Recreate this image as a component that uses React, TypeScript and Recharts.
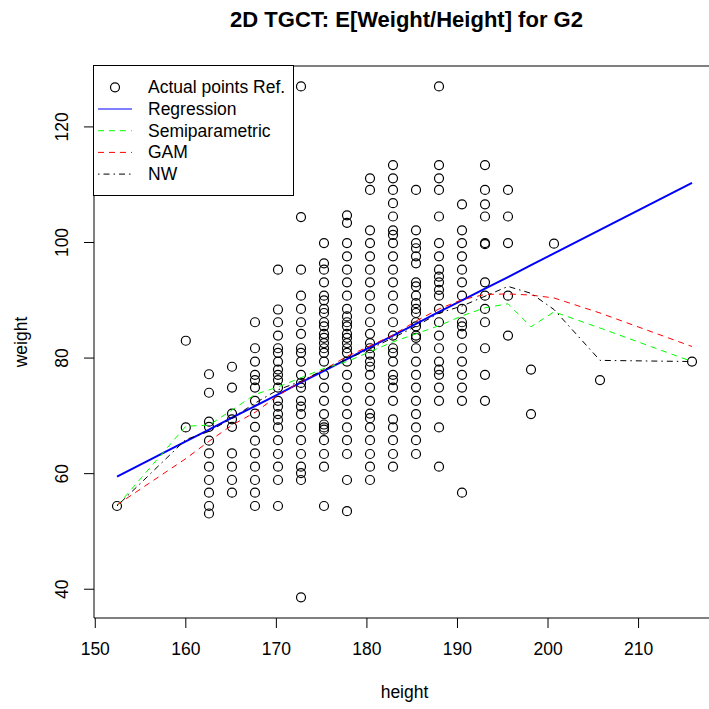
import { ScatterChart, Scatter, XAxis, YAxis, ReferenceArea, Legend } from 'recharts';

// Distinct heights (cm) present in the sample
const heights = [
  152.4, 160.0, 162.56, 165.1, 167.64, 170.18, 172.72, 175.26, 177.8, 180.34,
  182.88, 185.42, 187.96, 190.5, 193.04, 195.58, 198.12, 200.66, 205.74, 215.9,
];

// Observed weights (kg) for each height above, same order
const weightColumns = [
  [54.4],
  [83.0, 68.0],
  [77.2, 74.0, 69.0, 68.1, 65.7, 63.5, 61.2, 58.9, 56.7, 54.4, 53.1],
  [78.5, 74.9, 70.4, 69.4, 68.1, 63.5, 61.2, 58.9, 56.7],
  [86.2, 81.7, 79.4, 77.1, 76.2, 74.9, 72.6, 70.4, 68.1, 65.7, 63.5, 61.2, 58.9, 56.7, 54.4],
  [95.3, 88.4, 86.2, 83.9, 81.7, 80.9, 79.4, 78.0, 77.1, 76.2, 74.9, 72.6, 71.6, 70.3, 69.3, 68.0, 65.8, 63.4, 61.2, 58.9, 54.4],
  [127.0, 104.4, 95.3, 90.8, 88.5, 86.2, 84.2, 81.7, 80.9, 79.4, 77.1, 75.7, 74.9, 72.6, 71.6, 70.3, 68.0, 65.8, 63.4, 61.2, 60.1, 58.9, 38.6],
  [99.9, 96.4, 95.3, 93.1, 90.8, 90.0, 88.5, 87.8, 86.2, 85.5, 84.2, 83.5, 82.6, 81.7, 80.9, 79.4, 77.1, 74.9, 72.6, 70.3, 68.5, 68.0, 67.6, 65.8, 63.4, 61.2, 54.4],
  [104.7, 103.4, 99.9, 97.6, 95.3, 93.1, 90.8, 88.5, 87.2, 86.2, 85.5, 84.2, 83.5, 82.6, 81.7, 80.9, 79.4, 77.1, 74.9, 72.6, 70.3, 68.0, 65.8, 63.4, 58.9, 53.5],
  [111.1, 109.1, 102.1, 99.9, 97.6, 95.3, 93.1, 90.8, 88.5, 86.2, 84.2, 82.6, 81.7, 80.6, 79.4, 78.5, 77.1, 74.9, 72.6, 70.4, 69.6, 68.0, 65.8, 63.4, 61.2, 58.9],
  [113.4, 111.1, 109.1, 106.8, 104.5, 102.1, 101.3, 99.9, 97.6, 95.3, 93.1, 90.8, 88.5, 86.2, 83.9, 81.7, 80.9, 79.4, 77.1, 76.2, 74.9, 72.6, 69.4, 68.0, 65.8, 63.4, 61.2],
  [109.1, 102.1, 99.9, 99.0, 97.6, 96.4, 93.1, 92.4, 90.8, 89.5, 88.5, 87.8, 86.2, 85.5, 83.9, 83.5, 81.7, 79.4, 77.1, 74.9, 72.6, 70.3, 68.0, 65.8, 63.4],
  [127.0, 113.4, 111.1, 109.1, 104.5, 99.9, 97.6, 95.3, 94.1, 93.1, 91.8, 90.8, 88.5, 86.2, 83.9, 81.7, 79.4, 78.0, 77.1, 74.9, 72.6, 68.0, 61.2],
  [106.6, 102.1, 99.9, 97.6, 95.3, 93.1, 90.8, 88.5, 86.2, 85.5, 84.2, 81.7, 79.4, 77.1, 74.9, 72.6, 56.7],
  [113.4, 109.1, 106.6, 104.5, 99.9, 99.7, 93.1, 90.8, 88.5, 86.2, 81.7, 77.1, 72.6],
  [109.1, 104.5, 99.9, 90.8, 83.9],
  [78.0, 70.3],
  [99.8],
  [76.2],
  [79.4],
];

// Fitted E[weight | height] at each height
const regressionFit = [59.5, 65.6, 67.6, 69.7, 71.7, 73.7, 75.8, 77.8, 79.8, 81.9, 83.9, 85.9, 88.0, 90.0, 92.0, 94.0, 96.1, 98.1, 102.2, 110.3];
const semiparamFit = [54.4, 68.2, 68.4, 71.0, 73.7, 75.0, 76.6, 78.2, 79.4, 81.1, 82.8, 84.2, 85.6, 87.3, 88.7, 89.4, 85.4, 88.0, 85.2, 79.4];
const gamFit = [54.6, 62.6, 65.6, 68.4, 70.6, 73.5, 75.9, 78.0, 80.3, 82.1, 84.0, 86.4, 88.5, 90.1, 91.0, 91.1, 90.9, 90.4, 87.8, 82.0];
const nwFit = [54.4, 65.9, 67.3, 69.6, 72.2, 74.5, 76.0, 78.0, 79.8, 81.6, 83.5, 85.5, 87.8, 89.0, 90.7, 92.4, 91.2, 88.4, 79.6, 79.4];

const xTicks = [150, 160, 170, 180, 190, 200, 210];
const yTicks = [40, 60, 80, 100, 120];

// R-style axis ranges: data range padded by 4% on each side
const xDomain = [149.86, 218.44];
const yDomain = [35.02, 130.54];

const FONT = '"Liberation Sans", Arial, Helvetica, sans-serif';
const TICK_LEN = 10;

const points = heights.flatMap((h, i) => weightColumns[i].map((w) => ({ h, w })));
const asRows = (vals: number[]) => heights.map((h, i) => ({ h, w: vals[i] }));

const curves = [
  { name: 'Regression', data: asRows(regressionFit), stroke: '#0000ff', width: 2, dash: undefined },
  { name: 'Semiparametric', data: asRows(semiparamFit), stroke: '#00ff00', width: 1, dash: '6 5' },
  { name: 'GAM', data: asRows(gamFit), stroke: '#ff0000', width: 1, dash: '6 5' },
  { name: 'NW', data: asRows(nwFit), stroke: '#000000', width: 1, dash: '1.5 4 6 4' },
];

const OpenCircle = (props: any) => (
  <circle cx={props.cx} cy={props.cy} r={4.5} fill="none" stroke="#000" strokeWidth={1.2} />
);

const NoMarker = () => <g />;

const XTick = ({ x, y, payload }: any) => (
  <text x={x} y={y + 21} textAnchor="middle" dominantBaseline="central" fontSize={17.5} fontFamily={FONT} fill="#000">
    {payload.value}
  </text>
);

// R draws y tick labels parallel to the axis
const YTick = ({ x, y, payload }: any) => (
  <text
    x={x - 21.5}
    y={y}
    transform={`rotate(-90, ${x - 21.5}, ${y})`}
    textAnchor="middle"
    dominantBaseline="central"
    fontSize={17.5}
    fontFamily={FONT}
    fill="#000"
  >
    {payload.value}
  </text>
);

const LegendBox = () => {
  const rows = [
    { label: 'Actual points Ref.', kind: 'point' as const },
    ...curves.map((c) => ({ label: c.name, kind: 'line' as const, c })),
  ];
  return (
    <svg width={201} height={131} style={{ display: 'block' }}>
      <rect x={0.5} y={0.5} width={200} height={130} fill="#fff" stroke="#000" />
      {rows.map((r: any, i) => {
        const cy = 22.3 + i * 21.7;
        return (
          <g key={r.label}>
            {r.kind === 'point' ? (
              <circle cx={22} cy={cy} r={4.5} fill="none" stroke="#000" strokeWidth={1.2} />
            ) : (
              <line x1={5} x2={39} y1={cy} y2={cy} stroke={r.c.stroke} strokeWidth={r.c.width === 2 ? 1.2 : 1} strokeDasharray={r.c.dash} />
            )}
            <text x={55} y={cy} dominantBaseline="central" fontSize={17.5} fontFamily={FONT} fill="#000">
              {r.label}
            </text>
          </g>
        );
      })}
    </svg>
  );
};

export default function App() {
  return (
    <div style={{ position: 'absolute', left: 0, top: 0, width: 709, height: 709, overflow: 'hidden', background: '#fff', fontFamily: FONT }}>
      <div style={{ position: 'absolute', left: 96, width: 621, top: 7.5, textAlign: 'center', fontWeight: 'bold', fontSize: 22, lineHeight: '24px', whiteSpace: 'nowrap' }}>
        2D TGCT: E[Weight/Height] for G2
      </div>
      <ScatterChart width={740} height={709} margin={{ top: 66, right: 25, bottom: 31, left: 34 }}>
        <XAxis
          type="number"
          dataKey="h"
          domain={xDomain}
          ticks={xTicks}
          allowDataOverflow
          axisLine={false}
          tickLine={{ stroke: '#000' }}
          tickSize={TICK_LEN}
          tickMargin={0}
          height={60}
          tick={<XTick />}
        />
        <YAxis
          type="number"
          dataKey="w"
          domain={yDomain}
          ticks={yTicks}
          allowDataOverflow
          axisLine={false}
          tickLine={{ stroke: '#000' }}
          tickSize={TICK_LEN}
          tickMargin={0}
          width={60}
          tick={<YTick />}
        />
        <ReferenceArea x1={xDomain[0]} x2={xDomain[1]} y1={yDomain[0]} y2={yDomain[1]} fill="none" stroke="#000" strokeWidth={1} fillOpacity={0} />
        <Scatter name="Actual points Ref." data={points} shape={<OpenCircle />} isAnimationActive={false} />
        {curves.map((c) => (
          <Scatter
            key={c.name}
            name={c.name}
            data={c.data}
            shape={<NoMarker />}
            line={{ stroke: c.stroke, strokeWidth: c.width, strokeDasharray: c.dash }}
            isAnimationActive={false}
          />
        ))}
        {/* centred + middle keeps the legend from reserving chart space */}
        <Legend
          layout="horizontal"
          verticalAlign="middle"
          align="center"
          content={<LegendBox />}
          wrapperStyle={{ position: 'absolute', left: 93, top: 65, width: 201, height: 131 }}
        />
      </ScatterChart>
      <div style={{ position: 'absolute', left: 94, width: 621, top: 680, textAlign: 'center', fontSize: 17.5, lineHeight: '24px' }}>
        height
      </div>
      <div
        style={{
          position: 'absolute',
          left: 21,
          top: 342,
          transform: 'translate(-50%, -50%) rotate(-90deg)',
          fontSize: 17.5,
          lineHeight: '24px',
          whiteSpace: 'nowrap',
        }}
      >
        weight
      </div>
    </div>
  );
}
